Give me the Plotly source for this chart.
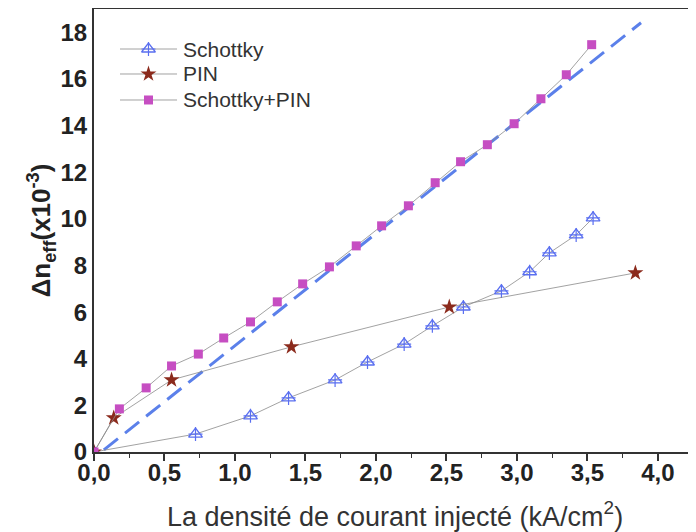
import plotly.graph_objects as go

schottky_x = [0.0, 0.72, 1.11, 1.38, 1.71, 1.94, 2.20, 2.40, 2.62, 2.89, 3.09, 3.23, 3.42, 3.54]
schottky_y = [0.0, 0.77, 1.55, 2.32, 3.09, 3.86, 4.63, 5.41, 6.22, 6.91, 7.73, 8.54, 9.31, 10.04]

pin_x = [0.0, 0.14, 0.55, 1.40, 2.52, 3.84]
pin_y = [0.0, 1.46, 3.09, 4.51, 6.22, 7.68]

sp_x = [0.0, 0.18, 0.37, 0.55, 0.74, 0.92, 1.11, 1.30, 1.48, 1.67, 1.86, 2.04, 2.23, 2.42, 2.60, 2.79, 2.98, 3.17, 3.35, 3.53]
sp_y = [0.0, 1.85, 2.75, 3.69, 4.20, 4.89, 5.58, 6.44, 7.21, 7.94, 8.84, 9.70, 10.56, 11.55, 12.45, 13.18, 14.08, 15.15, 16.18, 17.47]

fit_x = [0.07, 3.88]
fit_y = [0.09, 18.41]

x_ticks = [0, 0.5, 1.0, 1.5, 2.0, 2.5, 3.0, 3.5, 4.0]
x_tick_labels = ["0,0", "0,5", "1,0", "1,5", "2,0", "2,5", "3,0", "3,5", "4,0"]
y_ticks = [0, 2, 4, 6, 8, 10, 12, 14, 16, 18]

legend_names = ["Schottky", "PIN", "Schottky+PIN"]

line_style = dict(color="#8a8a8a", width=0.8)
blue = "#5a6ff0"
red = "#8b2a1c"
pink = "#c64ec2"

tri_marker = dict(symbol="triangle-up-open", size=12, color=blue, line=dict(width=1.3, color=blue))
cross_marker = dict(symbol="cross-thin-open", size=10, color=blue, line=dict(width=1.2, color=blue))
star_marker = dict(symbol="star", size=12, color=red)
sq_marker = dict(symbol="square", size=9, color=pink)

fig = go.Figure()
fig.add_trace(go.Scatter(x=fit_x, y=fit_y, mode="lines", showlegend=False,
                         line=dict(color="#5b80ea", width=3, dash="18px,9px")))
fig.add_trace(go.Scatter(x=schottky_x, y=schottky_y, mode="lines+markers", name=legend_names[0],
                         showlegend=False, line=line_style, marker=tri_marker))
fig.add_trace(go.Scatter(x=schottky_x[1:], y=schottky_y[1:], mode="markers", showlegend=False,
                         marker=cross_marker))
fig.add_trace(go.Scatter(x=pin_x, y=pin_y, mode="lines+markers", name=legend_names[1],
                         showlegend=False, line=line_style, marker=star_marker))
fig.add_trace(go.Scatter(x=sp_x, y=sp_y, mode="lines+markers", name=legend_names[2],
                         showlegend=False, line=line_style, marker=sq_marker))

# manual legend on an overlay axis spanning the plot area (0..1 both ways)
row_y = [0.9097, 0.8533, 0.7946]
lx0, lxm, lx1, tx = 0.0432, 0.0905, 0.1379, 0.1450
markers = [tri_marker, star_marker, sq_marker]
for i, (ry, mk) in enumerate(zip(row_y, markers)):
    fig.add_trace(go.Scatter(x=[lx0, lx1], y=[ry, ry], mode="lines", xaxis="x2", yaxis="y2",
                             showlegend=False, hoverinfo="skip", line=line_style))
    fig.add_trace(go.Scatter(x=[lxm], y=[ry], mode="markers", xaxis="x2", yaxis="y2",
                             showlegend=False, hoverinfo="skip", marker=mk))
    if i == 0:
        fig.add_trace(go.Scatter(x=[lxm], y=[ry], mode="markers", xaxis="x2", yaxis="y2",
                                 showlegend=False, hoverinfo="skip", marker=cross_marker))
    fig.add_annotation(x=tx, y=ry, xref="x2", yref="y2", text=legend_names[i], showarrow=False,
                       xanchor="left", yanchor="middle", font=dict(size=21, color="#333"))

fig.update_layout(
    width=696, height=532,
    margin=dict(l=86, r=8, t=1, b=88),
    paper_bgcolor="white", plot_bgcolor="white",
    font=dict(family="Liberation Sans, Arial, sans-serif", color="#222"),
    showlegend=False,
    xaxis2=dict(overlaying="x", range=[0, 1], visible=False, fixedrange=True),
    yaxis2=dict(overlaying="y", range=[0, 1], visible=False, fixedrange=True),
)
fig.update_layout(xaxis=dict(
    range=[0, 4.27], tickvals=x_ticks, ticktext=x_tick_labels, automargin=False,
    tickfont=dict(size=24, family="Liberation Sans, Arial", color="#222", weight="bold"),
    ticks="outside", ticklen=7, tickwidth=1.5, tickcolor="#333", ticklabelstandoff=-9,
    minor=dict(ticks="outside", ticklen=4, tickwidth=1.2, dtick=0.25, tickcolor="#333"),
    showline=True, linecolor="#333", linewidth=2, mirror=True,
    showgrid=False, zeroline=False,
    title=dict(text="La densité de courant injecté (kA/cm<sup>2</sup>)",
               font=dict(size=27, color="#333"), standoff=22),
))
fig.update_layout(yaxis=dict(
    range=[0, 19.0], tickvals=y_ticks, automargin=False,
    tickfont=dict(size=24, family="Liberation Sans, Arial", color="#222", weight="bold"),
    ticks="", ticklabelstandoff=0,
    showline=True, linecolor="#333", linewidth=2, mirror=False,
    showgrid=False, zeroline=False,
    title=dict(text="Δn<sub>eff</sub>(x10<sup>-3</sup>)",
               font=dict(size=26, color="#222", weight="bold"), standoff=2),
))

fig.write_html("out.html")
